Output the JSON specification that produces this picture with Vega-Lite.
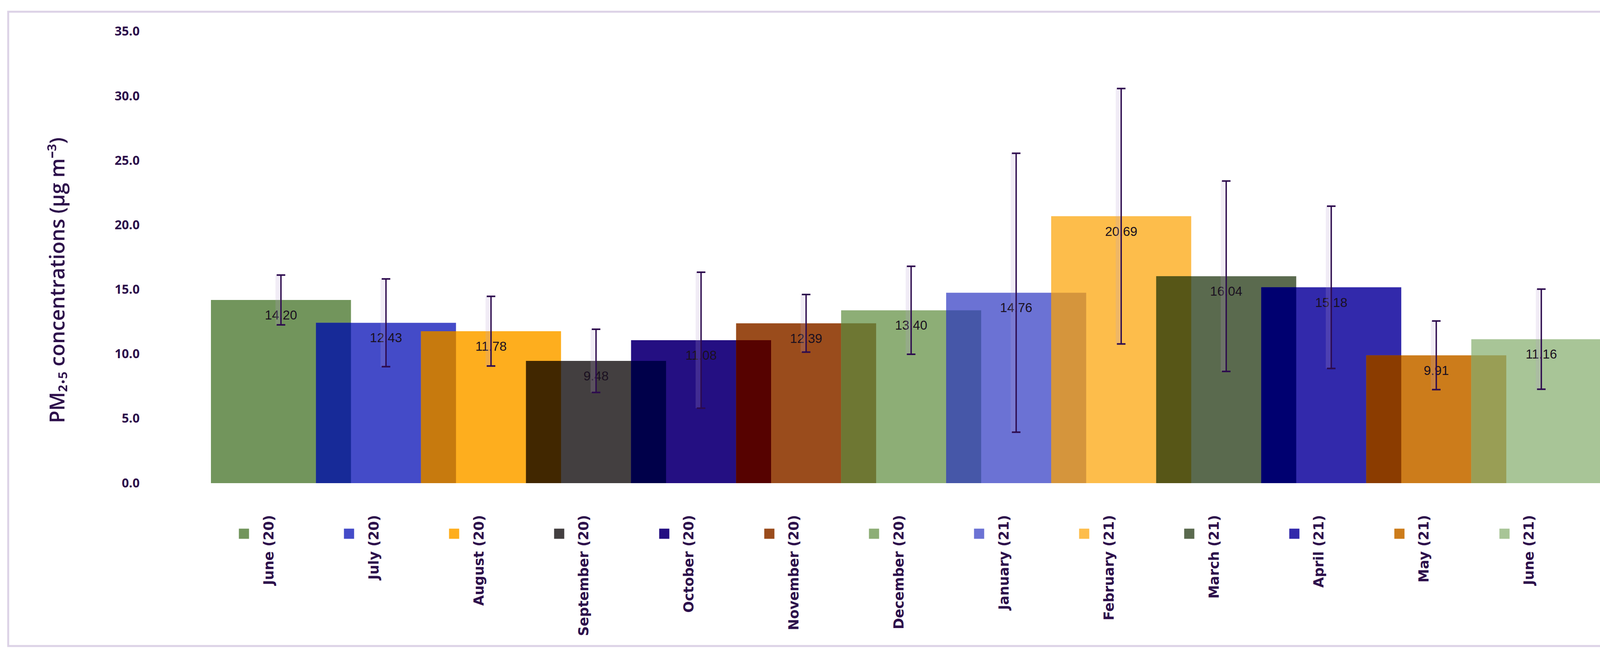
{
  "$schema": "https://vega.github.io/schema/vega-lite/v6.json",
  "width": 4297,
  "height": 1624,
  "autosize": "none",
  "padding": {"left": 21, "top": 30, "right": 17, "bottom": 23},
  "background": "white",
  "config": {
    "view": {"stroke": "#dcd2e6", "strokeWidth": 5}
  },
  "data": {
    "values": [
      {"month": "June (20)", "value": 14.20, "lo": 12.27, "hi": 16.13},
      {"month": "July (20)", "value": 12.43, "lo": 9.03, "hi": 15.83},
      {"month": "August (20)", "value": 11.78, "lo": 9.08, "hi": 14.48},
      {"month": "September (20)", "value": 9.48, "lo": 7.03, "hi": 11.93},
      {"month": "October (20)", "value": 11.08, "lo": 5.81, "hi": 16.35},
      {"month": "November (20)", "value": 12.39, "lo": 10.16, "hi": 14.62},
      {"month": "December (20)", "value": 13.40, "lo": 9.99, "hi": 16.81},
      {"month": "January (21)", "value": 14.76, "lo": 3.95, "hi": 25.57},
      {"month": "February (21)", "value": 20.69, "lo": 10.79, "hi": 30.59},
      {"month": "March (21)", "value": 16.04, "lo": 8.66, "hi": 23.42},
      {"month": "April (21)", "value": 15.18, "lo": 8.89, "hi": 21.47},
      {"month": "May (21)", "value": 9.91, "lo": 7.25, "hi": 12.57},
      {"month": "June (21)", "value": 11.16, "lo": 7.28, "hi": 15.04}
    ]
  },
  "encoding": {
    "x": {
      "field": "month",
      "type": "nominal",
      "sort": null,
      "scale": {
        "domain": ["June (20)", "July (20)", "August (20)", "September (20)", "October (20)", "November (20)", "December (20)", "January (21)", "February (21)", "March (21)", "April (21)", "May (21)", "June (21)"],
        "range": [519, 4104],
        "paddingInner": 0,
        "paddingOuter": 0.16667
      },
      "axis": {
        "title": null,
        "orient": "bottom",
        "offset": -417,
        "domain": false,
        "ticks": true,
        "tickSize": 142,
        "tickWidth": 26,
        "tickCap": "butt",
        "tickDash": [0, 116, 26, 1000],
        "tickOffset": -95,
        "tickColor": {
          "condition": [
            {"test": "datum.value === 'June (20)'", "value": "#72955c"},
            {"test": "datum.value === 'July (20)'", "value": "#444bc8"},
            {"test": "datum.value === 'August (20)'", "value": "#feae1e"},
            {"test": "datum.value === 'September (20)'", "value": "#433f40"},
            {"test": "datum.value === 'October (20)'", "value": "#240f82"},
            {"test": "datum.value === 'November (20)'", "value": "#9a4c1c"},
            {"test": "datum.value === 'December (20)'", "value": "#8dae76"},
            {"test": "datum.value === 'January (21)'", "value": "#6b72d4"},
            {"test": "datum.value === 'February (21)'", "value": "#fdbd4b"},
            {"test": "datum.value === 'March (21)'", "value": "#5a6a4e"},
            {"test": "datum.value === 'April (21)'", "value": "#3229ab"},
            {"test": "datum.value === 'May (21)'", "value": "#cc7c1b"}
          ],
          "value": "#a8c597"
        },
        "labelAngle": 270,
        "labelAlign": "right",
        "labelBaseline": "middle",
        "labelPadding": -61,
        "labelOffset": 64,
        "labelFont": "DejaVu Sans",
        "labelFontWeight": "bold",
        "labelFontSize": 35,
        "labelColor": "#2d0f4b",
        "labelLimit": 1000,
        "labelOverlap": false
      }
    }
  },
  "layer": [
    {
      "mark": {"type": "bar", "width": {"band": 1.3333}},
      "encoding": {
        "y": {
          "field": "value",
          "type": "quantitative",
          "scale": {"domain": [-12.625, 36.543], "nice": false, "zero": false},
          "axis": {
            "title": "PM₂.₅ concentrations (µg m⁻³)",
            "orient": "left",
            "offset": -519,
            "values": [0, 5, 10, 15, 20, 25, 30, 35],
            "format": ".1f",
            "domain": false,
            "ticks": false,
            "grid": false,
            "labelPadding": 183,
            "labelFont": "Open Sans",
            "labelFontWeight": "bold",
            "labelFontSize": 32,
            "labelColor": "#2d0f4b",
            "titleFont": "Open Sans",
            "titleFontWeight": 600,
            "titleFontSize": 52,
            "titleColor": "#2d0f4b",
            "titleAngle": 270,
            "titleAlign": "center",
            "titleBaseline": "middle",
            "titleX": -392,
            "titleY": 687
          }
        },
        "y2": {"datum": 0},
        "color": {
          "field": "month",
          "type": "nominal",
          "legend": null,
          "scale": {
            "domain": ["June (20)", "July (20)", "August (20)", "September (20)", "October (20)", "November (20)", "December (20)", "January (21)", "February (21)", "March (21)", "April (21)", "May (21)", "June (21)"],
            "range": ["#72955c", "#444bc8", "#feae1e", "#433f40", "#240f82", "#9a4c1c", "#8dae76", "#6b72d4", "#fdbd4b", "#5a6a4e", "#3229ab", "#cc7c1b", "#a8c597"]
          }
        }
      }
    },
    {
      "transform": [
        {"window": [{"op": "lag", "field": "value", "as": "prev"}]},
        {"filter": "datum.prev != null"},
        {"fold": ["value", "prev"], "as": ["which", "h"]},
        {"aggregate": [{"op": "min", "field": "h", "as": "overlap"}], "groupby": ["month"]}
      ],
      "mark": {"type": "bar", "width": {"band": 0.3333}, "xOffset": -134.45},
      "encoding": {
        "y": {"field": "overlap", "type": "quantitative"},
        "y2": {"datum": 0},
        "fill": {
          "field": "month",
          "type": "nominal",
          "legend": null,
          "scale": {
            "domain": ["July (20)", "August (20)", "September (20)", "October (20)", "November (20)", "December (20)", "January (21)", "February (21)", "March (21)", "April (21)", "May (21)", "June (21)"],
            "range": ["#172a98", "#c77a0e", "#412700", "#00004a", "#560200", "#6e7733", "#4657a8", "#d5953c", "#575617", "#000070", "#8b3c00", "#999e55"]
          }
        }
      }
    },
    {
      "mark": {"type": "text", "dy": 40, "baseline": "middle", "align": "center", "font": "Liberation Sans", "fontSize": 33, "color": "#1a1020"},
      "encoding": {
        "y": {"field": "value", "type": "quantitative"},
        "text": {"field": "value", "type": "quantitative", "format": ".2f"}
      }
    },
    {
      "mark": {"type": "rule", "strokeWidth": 14, "color": "#b9a0d0", "opacity": 0.2, "xOffset": -7},
      "encoding": {
        "y": {"field": "lo", "type": "quantitative"},
        "y2": {"field": "hi"}
      }
    },
    {
      "mark": {"type": "rule", "strokeWidth": 3.5, "color": "#2d0b4e"},
      "encoding": {
        "y": {"field": "lo", "type": "quantitative"},
        "y2": {"field": "hi"}
      }
    },
    {
      "mark": {"type": "tick", "orient": "horizontal", "size": 22, "thickness": 4, "color": "#2d0b4e", "opacity": 1},
      "encoding": {
        "y": {"field": "lo", "type": "quantitative"}
      }
    },
    {
      "mark": {"type": "tick", "orient": "horizontal", "size": 22, "thickness": 4, "color": "#2d0b4e", "opacity": 1},
      "encoding": {
        "y": {"field": "hi", "type": "quantitative"}
      }
    }
  ]
}
